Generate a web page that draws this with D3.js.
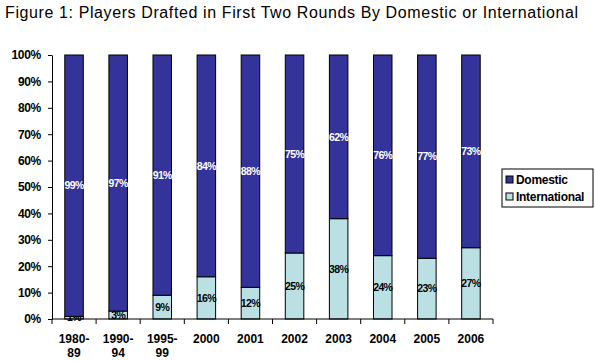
<!DOCTYPE html>
<html>
<head>
<meta charset="utf-8">
<script src="https://cdn.jsdelivr.net/npm/d3@7"></script>
<style>
  body { margin: 0; background: #fff; }
  text { font-family: Arial, "Liberation Sans", sans-serif; }
</style>
</head>
<body>
<div id="chart"></div>
<script>
// data
var periods = [["1980-", "89"], ["1990-", "94"], ["1995-", "99"], ["2000"], ["2001"], ["2002"], ["2003"], ["2004"], ["2005"], ["2006"]];
var domestic = [99, 97, 91, 84, 88, 75, 62, 76, 77, 73];
var international = [1, 3, 9, 16, 12, 25, 38, 24, 23, 27];
var yTicks = [0, 10, 20, 30, 40, 50, 60, 70, 80, 90, 100];
var seriesNames = ["Domestic", "International"];
var colors = {Domestic: "#333399", International: "#BBE0E3"};

var W = 595, H = 361;
var margin = {top: 55, right: 102, bottom: 42, left: 52},
    width = W - margin.left - margin.right,
    height = H - margin.top - margin.bottom;

var svg = d3.select("#chart").append("svg")
    .attr("width", W)
    .attr("height", H);

svg.append("text")
    .attr("x", 5).attr("y", 18)
    .style("font-size", "16px")
    .attr("textLength", 573)
    .attr("lengthAdjust", "spacing")
    .text("Figure 1: Players Drafted in First Two Rounds By Domestic or International");

var g = svg.append("g")
    .attr("transform", "translate(" + margin.left + "," + margin.top + ")");

var keys = periods.map(function(p) { return p.join(""); });
var x = d3.scaleBand().domain(keys).range([0, width]).paddingInner(0.58).paddingOuter(0.29);
var y = d3.scaleLinear().domain([0, 100]).range([height, 0]);

var rows = keys.map(function(k, i) {
  return {key: k, Domestic: domestic[i], International: international[i]};
});
var stack = d3.stack().keys(["International", "Domestic"]);
var layers = stack(rows);

layers.forEach(function(layer) {
  var name = layer.key;
  g.selectAll("rect." + name).data(layer).enter().append("rect")
      .attr("class", name)
      .attr("x", function(d) { return x(d.data.key); })
      .attr("y", function(d) { return y(d[1]); })
      .attr("width", x.bandwidth())
      .attr("height", function(d) { return y(d[0]) - y(d[1]); })
      .attr("fill", colors[name])
      .attr("stroke", "#000")
      .attr("stroke-width", 1);

  g.selectAll("text." + name).data(layer).enter().append("text")
      .attr("class", name)
      .attr("x", function(d) { return x(d.data.key) + x.bandwidth() / 2; })
      .attr("y", function(d) { return y((d[0] + d[1]) / 2); })
      .attr("dy", "0.35em")
      .attr("text-anchor", "middle")
      .style("font-size", "10.5px")
      .style("font-weight", "bold")
      .style("letter-spacing", "-0.6px")
      .attr("fill", name == "Domestic" ? "#fff" : "#000")
      .text(function(d) { return d.data[name] + "%"; });
});

// y axis
var yAxis = g.append("g")
    .call(d3.axisLeft(y).tickValues(yTicks).tickSize(4).tickSizeOuter(0)
      .tickFormat(function(d) { return d + "%"; }));
yAxis.select(".domain").attr("stroke", "#000");
yAxis.selectAll("text").style("font-size", "12px").style("font-weight", "bold")
    .style("letter-spacing", "-0.3px")
    .style("font-family", "Arial, 'Liberation Sans', sans-serif").attr("fill", "#000").attr("x", -11);

// x axis, ticks between the categories
var xAxis = g.append("g").attr("transform", "translate(0," + height + ")");
xAxis.append("line").attr("x1", 0).attr("x2", width).attr("stroke", "#000");
var bounds = d3.range(keys.length + 1).map(function(i) { return i * width / keys.length; });
xAxis.selectAll("line.tick").data(bounds).enter().append("line")
    .attr("class", "tick")
    .attr("x1", function(d) { return d; }).attr("x2", function(d) { return d; })
    .attr("y1", 0).attr("y2", 5).attr("stroke", "#000");

xAxis.selectAll("text.lbl").data(periods).enter().append("text")
    .attr("class", "lbl")
    .attr("text-anchor", "middle")
    .attr("x", function(d, i) { return x(keys[i]) + x.bandwidth() / 2; })
    .attr("y", 24)
    .style("font-size", "12px")
    .style("font-weight", "bold")
    .selectAll("tspan").data(function(d) { return d; }).enter().append("tspan")
    .attr("x", function() { return d3.select(this.parentNode).attr("x"); })
    .attr("dy", function(d, i) { return i == 0 ? 0 : 14; })
    .text(function(d) { return d; });

// legend
var legend = svg.append("g").attr("transform", "translate(502,169)");
legend.append("rect").attr("width", 91).attr("height", 38)
    .attr("fill", "#fff").attr("stroke", "#000");
seriesNames.forEach(function(name, i) {
  legend.append("rect").attr("x", 4).attr("y", 7 + i * 17)
      .attr("width", 7).attr("height", 7)
      .attr("fill", colors[name]).attr("stroke", "#000");
  legend.append("text").attr("x", 14).attr("y", 15 + i * 17)
      .style("font-size", "12px").style("font-weight", "bold")
      .style("letter-spacing", "-0.3px")
      .text(name);
});
</script>
</body>
</html>
